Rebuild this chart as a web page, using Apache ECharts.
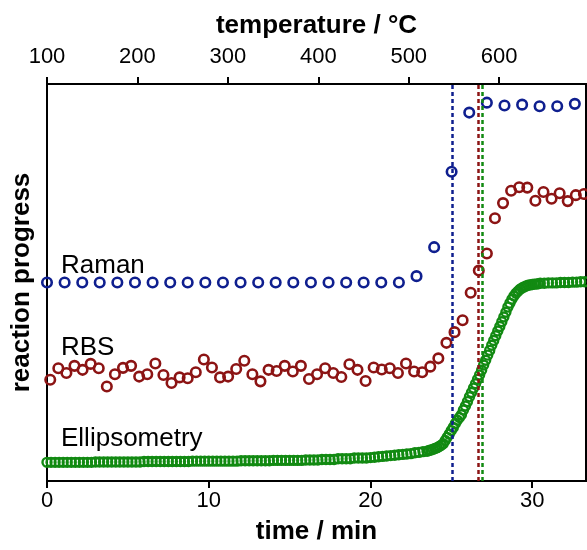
<!DOCTYPE html>
<html>
<head>
<meta charset="utf-8">
<script src="https://cdn.jsdelivr.net/npm/echarts@6/dist/echarts.min.js"></script>
<style>html,body{margin:0;padding:0;background:#fff}#c{width:587px;height:550px}</style>
</head>
<body>
<div id="c"></div>
<script>
// ---- data ----
const seriesNames = ['Raman', 'RBS', 'Ellipsometry'];
const timeTicks = [0, 10, 20, 30];
const temperatureTicks = [100, 200, 300, 400, 500, 600];

const ramanTime = [0,1.09,2.18,3.26,4.35,5.44,6.53,7.62,8.70,9.79,10.88,11.97,13.06,14.14,15.23,16.32,17.41,18.50,19.58,20.67,21.76,22.85,23.94,25.02,26.11,27.20,28.29,29.38,30.46,31.55,32.64];
const ramanValue = [0.50,0.50,0.50,0.50,0.50,0.50,0.50,0.50,0.50,0.50,0.50,0.50,0.50,0.50,0.50,0.50,0.50,0.50,0.50,0.50,0.50,0.516,0.589,0.779,0.928,0.953,0.946,0.948,0.944,0.944,0.950];

const rbsTime = [0.2,0.7,1.2,1.7,2.2,2.7,3.2,3.7,4.2,4.7,5.2,5.7,6.2,6.7,7.2,7.7,8.2,8.7,9.2,9.7,10.2,10.7,11.2,11.7,12.2,12.7,13.2,13.7,14.2,14.7,15.2,15.7,16.2,16.7,17.2,17.7,18.2,18.7,19.2,19.7,20.2,20.7,21.2,21.7,22.2,22.7,23.2,23.7,24.2,24.7,25.2,25.7,26.2,26.7,27.2,27.7,28.2,28.7,29.2,29.7,30.2,30.7,31.2,31.7,32.2,32.7,33.2];
const rbsValue = [0.255,0.284,0.272,0.290,0.280,0.295,0.284,0.238,0.269,0.285,0.290,0.263,0.269,0.296,0.267,0.247,0.261,0.259,0.274,0.306,0.286,0.261,0.263,0.282,0.303,0.269,0.251,0.280,0.277,0.290,0.276,0.290,0.257,0.269,0.284,0.272,0.262,0.294,0.280,0.252,0.286,0.281,0.284,0.272,0.296,0.276,0.274,0.288,0.309,0.348,0.375,0.405,0.474,0.530,0.573,0.662,0.700,0.731,0.740,0.739,0.706,0.728,0.711,0.725,0.705,0.720,0.723];

// [time / min, reaction progress]
const ellipsometry = [
[0,0.047],[0.25,0.047],[0.5,0.047],[0.75,0.047],[1,0.047],[1.25,0.047],[1.5,0.047],[1.75,0.047],[2,0.047],[2.25,0.047],[2.5,0.047],[2.75,0.047],
[3,0.048],[3.25,0.048],[3.5,0.048],[3.75,0.048],[4,0.048],[4.25,0.048],[4.5,0.048],[4.75,0.048],[5,0.048],[5.25,0.048],[5.5,0.048],[5.75,0.048],
[6,0.049],[6.25,0.049],[6.5,0.049],[6.75,0.049],[7,0.049],[7.25,0.049],[7.5,0.049],[7.75,0.049],[8,0.049],[8.25,0.049],[8.5,0.049],[8.75,0.049],
[9,0.050],[9.25,0.050],[9.5,0.050],[9.75,0.050],[10,0.050],[10.25,0.050],[10.5,0.050],[10.75,0.050],[11,0.050],[11.25,0.050],[11.5,0.050],[11.75,0.050],
[12,0.051],[12.25,0.051],[12.5,0.051],[12.75,0.051],[13,0.051],[13.25,0.051],[13.5,0.051],[13.75,0.051],
[14,0.052],[14.25,0.052],[14.5,0.052],[14.75,0.052],[15,0.052],[15.25,0.052],[15.5,0.052],[15.75,0.052],
[16,0.053],[16.25,0.053],[16.5,0.053],[16.75,0.053],[17,0.054],[17.25,0.054],[17.5,0.054],[17.75,0.054],
[18,0.056],[18.25,0.056],[18.5,0.056],[18.75,0.056],[19,0.058],[19.25,0.058],[19.5,0.058],[19.75,0.058],
[20,0.059],[20.25,0.060],[20.5,0.061],[20.75,0.062],[21,0.063],[21.25,0.064],[21.5,0.065],[21.75,0.066],
[22,0.067],[22.25,0.068],[22.5,0.069],[22.75,0.071],[23,0.072],[23.25,0.074],
[23.5,0.075],[23.625,0.077],[23.75,0.078],[23.875,0.080],[24,0.082],[24.125,0.084],[24.25,0.087],[24.375,0.090],
[24.5,0.094],[24.625,0.102],[24.75,0.110],[24.875,0.118],[25,0.127],[25.125,0.135],[25.25,0.145],[25.375,0.153],
[25.5,0.160],[25.625,0.167],[25.75,0.179],[25.875,0.189],[26,0.200],[26.125,0.212],[26.25,0.223],[26.375,0.234],
[26.5,0.245],[26.625,0.256],[26.75,0.267],[26.875,0.279],[27,0.292],[27.125,0.304],[27.25,0.317],[27.375,0.329],
[27.5,0.342],[27.625,0.354],[27.75,0.366],[27.875,0.378],[28,0.389],[28.125,0.401],[28.25,0.413],[28.375,0.425],
[28.5,0.438],[28.625,0.448],[28.75,0.458],[28.875,0.466],[29,0.473],[29.125,0.478],[29.25,0.483],[29.375,0.486],
[29.5,0.489],[29.625,0.491],[29.75,0.493],[29.875,0.494],[30,0.495],[30.125,0.496],[30.25,0.496],[30.375,0.497],
[30.5,0.498],[30.75,0.498],[31,0.499],[31.25,0.499],[31.5,0.499],[31.75,0.500],[32,0.500],[32.25,0.500],
[32.5,0.501],[32.75,0.501],[33,0.502],[33.25,0.502]
];

// times where each method reaches half conversion (dashed lines)
const midpointTime = [25.06, 26.69, 26.93];

const colors = ['#0f1f8f', '#8c1414', '#128a12'];

// ---- chart ----
const FONT = '"Liberation Sans", Arial, Helvetica, sans-serif';
const chart = echarts.init(document.getElementById('c'), null, {renderer: 'canvas'});

function zip(a, b) { return a.map((v, i) => [v, b[i]]); }
function midLine(t, color) {
  return {
    silent: true, symbol: ['none', 'none'], animation: false,
    label: {show: false},
    lineStyle: {color: color, width: 2.5, type: [4, 3], opacity: 1},
    data: [{xAxis: t}]
  };
}

const axisLabelStyle = {color: '#000', fontSize: 22, fontFamily: FONT};
const axisNameStyle = {color: '#000', fontSize: 26, fontWeight: 'bold', fontFamily: FONT};

chart.setOption({
  animation: false,
  backgroundColor: '#fff',
  grid: {left: 47, right: 1, top: 84, bottom: 62, show: true, borderColor: '#000', borderWidth: 2, backgroundColor: 'transparent'},
  xAxis: [
    {
      type: 'value', position: 'bottom', min: 0, max: 33.33, interval: 10,
      name: 'time / min', nameLocation: 'middle', nameGap: 38, nameTextStyle: axisNameStyle,
      axisLine: {show: true, onZero: false, lineStyle: {color: '#000', width: 2}},
      axisTick: {show: true, inside: false, length: 7, lineStyle: {color: '#000', width: 2}},
      axisLabel: Object.assign({margin: 9, showMaxLabel: false,
        formatter: v => (timeTicks.indexOf(v) >= 0 ? String(v) : '')}, axisLabelStyle),
      splitLine: {show: false}
    },
    {
      type: 'value', position: 'top', min: 100, max: 696, interval: 100,
      name: 'temperature / °C', nameLocation: 'middle', nameGap: 45, nameTextStyle: axisNameStyle,
      axisLine: {show: true, onZero: false, lineStyle: {color: '#000', width: 2}},
      axisTick: {show: true, inside: false, length: 7, lineStyle: {color: '#000', width: 2}},
      axisLabel: Object.assign({margin: 16, showMaxLabel: false,
        formatter: v => (temperatureTicks.indexOf(v) >= 0 ? String(v) : '')}, axisLabelStyle),
      splitLine: {show: false}
    }
  ],
  yAxis: {
    type: 'value', min: 0, max: 1,
    name: 'reaction progress', nameLocation: 'middle', nameGap: 12, nameTextStyle: axisNameStyle,
    axisLine: {show: true, lineStyle: {color: '#000', width: 2}},
    axisTick: {show: false}, axisLabel: {show: false}, splitLine: {show: false}
  },
  graphic: [
    {type: 'text', left: 61, top: 253, style: {text: seriesNames[0], font: '26px ' + FONT, fill: '#000'}},
    {type: 'text', left: 61, top: 335, style: {text: seriesNames[1], font: '26px ' + FONT, fill: '#000'}},
    {type: 'text', left: 61, top: 426, style: {text: seriesNames[2], font: '26px ' + FONT, fill: '#000'}}
  ],
  series: [
    {
      name: seriesNames[2], type: 'scatter', xAxisIndex: 0, data: ellipsometry,
      symbol: 'circle', symbolSize: 9,
      itemStyle: {color: 'rgba(0,0,0,0)', borderColor: colors[2], borderWidth: 2.4, opacity: 1},
      markLine: midLine(midpointTime[2], colors[2])
    },
    {
      name: seriesNames[1], type: 'scatter', xAxisIndex: 0, data: zip(rbsTime, rbsValue),
      symbol: 'circle', symbolSize: 9.5,
      itemStyle: {color: 'rgba(0,0,0,0)', borderColor: colors[1], borderWidth: 2.6, opacity: 1},
      markLine: midLine(midpointTime[1], colors[1])
    },
    {
      name: seriesNames[0], type: 'scatter', xAxisIndex: 0, data: zip(ramanTime, ramanValue),
      symbol: 'circle', symbolSize: 9.5,
      itemStyle: {color: 'rgba(0,0,0,0)', borderColor: colors[0], borderWidth: 2.6, opacity: 1},
      markLine: midLine(midpointTime[0], colors[0])
    }
  ]
});
</script>
</body>
</html>
